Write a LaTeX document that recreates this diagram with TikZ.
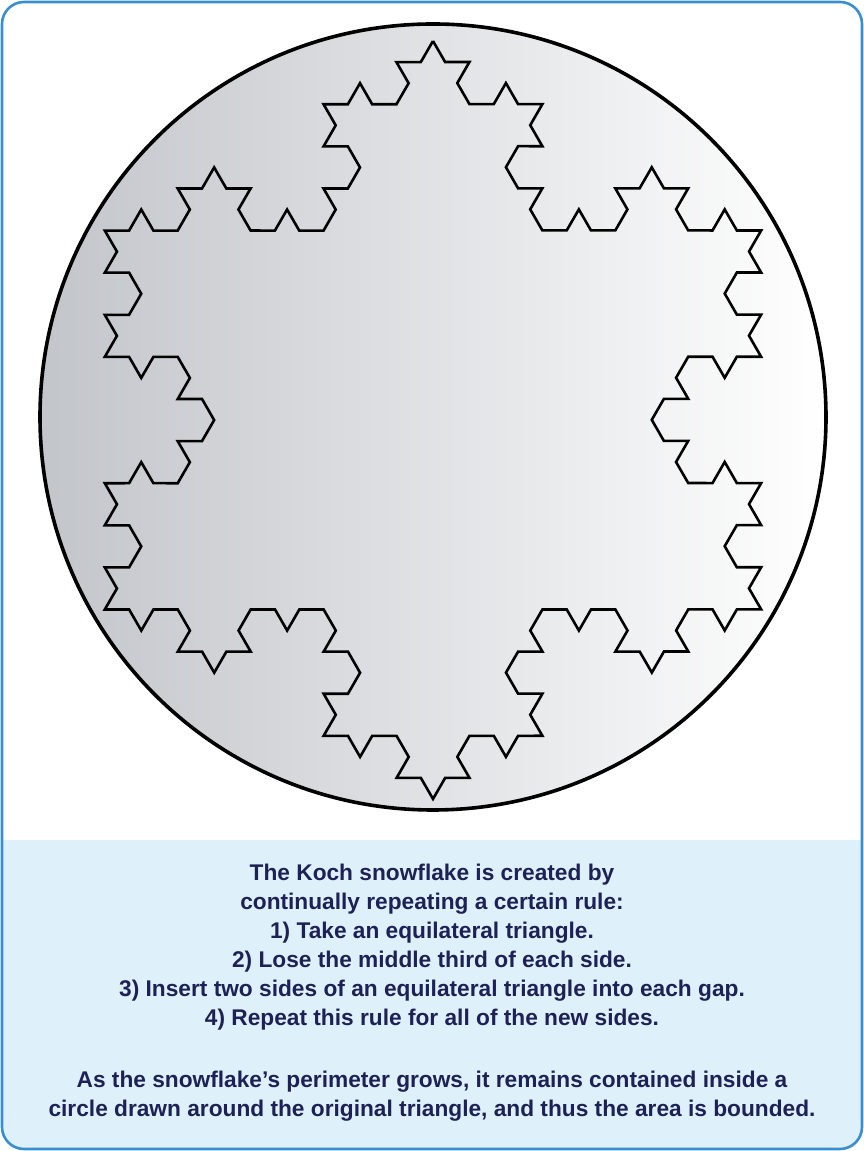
\documentclass[tikz,border=0pt]{standalone}
\usepackage{fontspec}
\setmainfont{Liberation Sans}
\usetikzlibrary{decorations.fractals}
\definecolor{frameblue}{HTML}{3A8ED0}
\definecolor{panelblue}{HTML}{DEF1FB}
\definecolor{textnavy}{HTML}{1E2156}
\definecolor{discgray}{HTML}{C2C5CA}
\begin{document}
\begin{tikzpicture}[x=1pt,y=1pt,
    frame/.style={draw=frameblue,line width=2.6pt,rounded corners=22pt},
    disc/.style={draw=black,line width=3.6pt,left color=discgray,right color=white},
    flake/.style={draw=black,line width=2.6pt,line join=miter,decoration={Koch snowflake}},
    caption/.style={text=textnavy,font=\fontsize{22.7}{29}\selectfont\bfseries,align=center}]
  \useasboundingbox (0,0) rectangle (864,1151);
  % Panel
  \begin{scope}
    \clip[rounded corners=22pt] (2,2) rectangle (862,1149);
    \fill[white] (0,0) rectangle (864,1151);
    \fill[panelblue] (0,0) rectangle (864,311);
  \end{scope}
  \draw[frame] (2,2) rectangle (862,1149);
  % Circle
  \path[disc] (433,734) circle (393);
  % Snowflake
  \coordinate (top) at (433,1110);
  \coordinate (right) at (761.2,541.5);
  \coordinate (left) at (104.8,541.5);
  \draw[flake] decorate{decorate{decorate{(top) -- (right) -- (left) -- cycle}}};
  % Text
  \node[caption] (rules) at (432,203.5) {The Koch snowflake is created by\\
    continually repeating a certain rule:\\
    1) Take an equilateral triangle.\\
    2) Lose the middle third of each side.\\
    3) Insert two sides of an equilateral triangle into each gap.\\
    4) Repeat this rule for all of the new sides.};
  \node[caption] (bound) at (432,54.5) {As the snowflake’s perimeter grows, it remains contained inside a\\
    circle drawn around the original triangle, and thus the area is bounded.};
\end{tikzpicture}
\end{document}
